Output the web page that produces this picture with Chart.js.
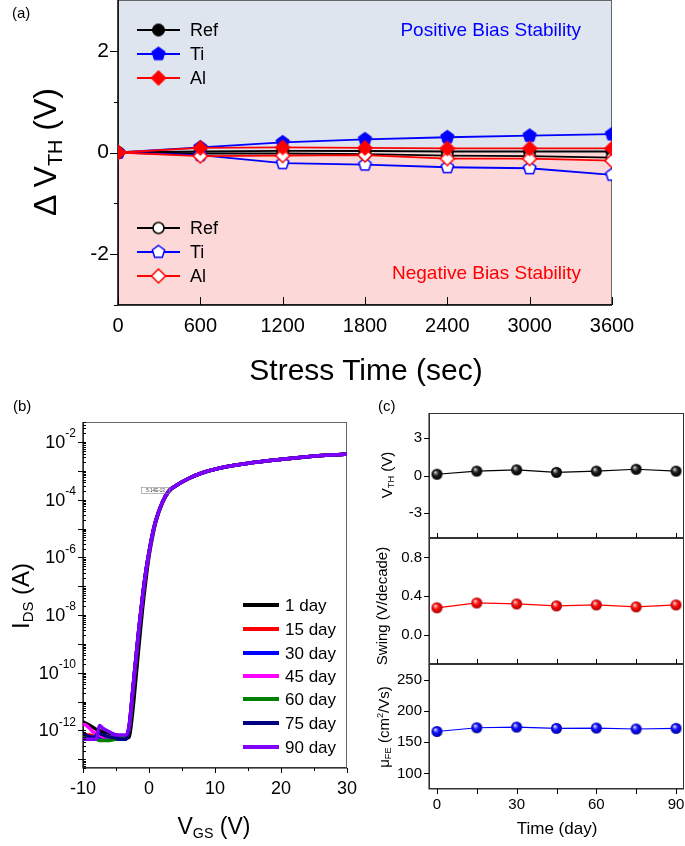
<!DOCTYPE html>
<html>
<head>
<meta charset="utf-8">
<script src="https://cdn.jsdelivr.net/npm/chart.js@4.4.1/dist/chart.umd.min.js"></script>
<style>
  body { margin: 0; background: #fff; }
  #page { position: relative; width: 685px; height: 846px; overflow: hidden; font-family: "Liberation Sans", Arial, sans-serif; color: #000; }
  canvas { position: absolute; }
  .lbl { position: absolute; white-space: nowrap; line-height: 1; }
  .mid { transform: translate(-50%, -50%); }
  .vert { transform: translate(-50%, -50%) rotate(-90deg); }
  sub { font-size: 0.62em; vertical-align: -0.3em; line-height: 0; }
  sup { font-size: 0.62em; vertical-align: 0.6em; line-height: 0; }
</style>
</head>
<body>
<div id="page">
  <canvas id="chartA" width="685" height="395" style="left:0;top:0"></canvas>
  <canvas id="chartB" width="360" height="451" style="left:0;top:395px"></canvas>
  <canvas id="chartC1" width="325" height="150" style="left:360px;top:395px"></canvas>
  <canvas id="chartC2" width="325" height="141" style="left:360px;top:530px"></canvas>
  <canvas id="chartC3" width="325" height="190" style="left:360px;top:656px"></canvas>

  <div class="lbl" style="left:12px;top:5px;font-size:15px">(a)</div>
  <div class="lbl vert" style="left:45px;top:152px;font-size:32px">&Delta; V<sub>TH</sub> (V)</div>
  <div class="lbl mid" style="left:366px;top:370px;font-size:30px">Stress Time (sec)</div>
  <div class="lbl" style="right:104px;top:20px;font-size:19px;color:#0000ff">Positive Bias Stability</div>
  <div class="lbl" style="right:104px;top:263px;font-size:19px;color:#ff0000">Negative Bias Stability</div>

  <div class="lbl" style="left:13px;top:398px;font-size:15px">(b)</div>
  <div class="lbl vert" style="left:21px;top:596px;font-size:24px">I<sub>DS</sub> (A)</div>
  <div class="lbl mid" style="left:214px;top:826px;font-size:23px">V<sub>GS</sub> (V)</div>

  <div class="lbl" style="left:378px;top:398px;font-size:15px">(c)</div>
  <div class="lbl vert" style="left:386px;top:475px;font-size:15px">V<sub>TH</sub> (V)</div>
  <div class="lbl vert" style="left:381px;top:606px;font-size:15px">Swing (V/decade)</div>
  <div class="lbl vert" style="left:383px;top:727px;font-size:15px">&mu;<sub>FE</sub> (cm<sup>2</sup>/Vs)</div>
  <div class="lbl mid" style="left:557px;top:828px;font-size:17px">Time (day)</div>
</div>
<script>
// ---------- panel (a): threshold shift under bias stress
const stressTime = [0, 600, 1200, 1800, 2400, 3000, 3600];
const pbsRef = [0, 0.02, 0.03, 0.03, 0.02, 0.02, 0.02];
const pbsTi = [0, 0.1, 0.2, 0.26, 0.3, 0.33, 0.36];
const pbsAl = [0, 0.09, 0.1, 0.09, 0.08, 0.08, 0.08];
const nbsRef = [0, -0.02, -0.02, -0.03, -0.06, -0.07, -0.1];
const nbsTi = [0, -0.05, -0.21, -0.24, -0.29, -0.31, -0.44];
const nbsAl = [0, -0.07, -0.06, -0.05, -0.12, -0.12, -0.16];
const metalLabels = ['Ref', 'Ti', 'Al'];

// ---------- panel (b): transfer curves over time
const vgs = [-10, -9, -8.5, -8, -7.5, -7, -6, -5, -4, -3.5, -3, -2.5, -2, -1.5, -1, -0.5, 0, 0.5, 1, 2, 3, 4, 6, 8, 10, 14, 18, 24, 30];
const idsDay1 = [2.0e-12, 1.5e-12, 1.3e-12, 1.1e-12, 1.0e-12, 9e-13, 8e-13, 7e-13, 6e-13, 5.5e-13, 6e-13, 4e-12, 6e-11, 1e-9, 1.5e-8, 1.5e-7, 1.1e-6, 4.8e-6, 1.6e-5, 7.5e-5, 1.9e-4, 3e-4, 5.5e-4, 8.5e-4, 1.15e-3, 1.7e-3, 2.25e-3, 3.1e-3, 3.9e-3];
const idsDay15 = [7e-13, 7e-13, 6.5e-13, 6e-13, 6e-13, 5.5e-13, 5.5e-13, 5.5e-13, 5.5e-13, 5.5e-13, 1.2e-12, 1.5e-11, 2.5e-10, 3.5e-9, 3.5e-8, 2.8e-7, 1.4e-6, 5.8e-6, 1.8e-5, 8e-5, 2e-4, 3e-4, 5.5e-4, 8.5e-4, 1.15e-3, 1.7e-3, 2.25e-3, 3.1e-3, 3.9e-3];
const idsDay30 = [8e-13, 6e-13, 6e-13, 5.5e-13, 5.5e-13, 5.5e-13, 5e-13, 5e-13, 5e-13, 5e-13, 1.3e-12, 1.8e-11, 2.8e-10, 3.8e-9, 3.8e-8, 3e-7, 1.5e-6, 6e-6, 1.8e-5, 8e-5, 2e-4, 3e-4, 5.5e-4, 8.5e-4, 1.15e-3, 1.7e-3, 2.25e-3, 3.1e-3, 3.9e-3];
const idsDay45 = [1.8e-12, 1.2e-12, 9e-13, 8e-13, 7e-13, 6e-13, 6e-13, 6.5e-13, 6e-13, 6e-13, 1.4e-12, 2e-11, 3e-10, 4e-9, 4e-8, 3e-7, 1.5e-6, 6e-6, 1.8e-5, 8e-5, 2e-4, 3e-4, 5.5e-4, 8.5e-4, 1.15e-3, 1.7e-3, 2.25e-3, 3.1e-3, 3.9e-3];
const idsDay60 = [6e-13, 5e-13, 5e-13, 5e-13, 4.5e-13, 4.5e-13, 4.5e-13, 5e-13, 6e-13, 6.5e-13, 1.2e-12, 1.7e-11, 2.8e-10, 3.8e-9, 3.8e-8, 3e-7, 1.5e-6, 6e-6, 1.8e-5, 8e-5, 2e-4, 3e-4, 5.5e-4, 8.5e-4, 1.15e-3, 1.7e-3, 2.25e-3, 3.1e-3, 3.9e-3];
const idsDay75 = [8e-13, 6e-13, 5e-13, 7e-13, 8e-13, 7e-13, 6e-13, 5.5e-13, 5e-13, 5e-13, 1.5e-12, 2e-11, 3e-10, 4e-9, 4e-8, 3e-7, 1.5e-6, 6e-6, 1.8e-5, 8e-5, 2e-4, 3e-4, 5.5e-4, 8.5e-4, 1.15e-3, 1.7e-3, 2.25e-3, 3.1e-3, 3.9e-3];
const idsDay90 = [5e-13, 5e-13, 5e-13, 5e-13, 1.5e-12, 1.2e-12, 9e-13, 7e-13, 7e-13, 7e-13, 1.5e-12, 2e-11, 3e-10, 4e-9, 4e-8, 3e-7, 1.5e-6, 6e-6, 1.8e-5, 8e-5, 2e-4, 3e-4, 5.5e-4, 8.5e-4, 1.15e-3, 1.7e-3, 2.25e-3, 3.1e-3, 3.9e-3];
const dayLabels = ['1 day', '15 day', '30 day', '45 day', '60 day', '75 day', '90 day'];
const vgsTicks = [-10, 0, 10, 20, 30];
const vgsMinorTicks = [-5, 5, 15, 25];
const idsLabelPowers = [-12, -10, -8, -6, -4, -2];

// ---------- panel (c): parameters vs storage time
const days = [0, 15, 30, 45, 60, 75, 90];
const vth = [0.1, 0.35, 0.45, 0.25, 0.35, 0.5, 0.35];
const swing = [0.28, 0.33, 0.32, 0.3, 0.31, 0.29, 0.31];
const mobility = [167, 173, 174, 172, 172.5, 171, 172];
const dayTicks = [0, 15, 30, 45, 60, 75, 90];
const vthTicks = [-3, 0, 3];
const swingTicks = [0, 0.4, 0.8];
const mobilityTicks = [100, 150, 200, 250];

const FONT = '"Liberation Sans", Arial, sans-serif';
Chart.defaults.font.family = FONT;
Chart.defaults.color = '#000';

const pts = (xs, ys) => xs.map((x, i) => ({ x: x, y: ys[i] }));

// fixed scale sizes so the plot boxes land where the figure has them
const fixWidth = w => s => { s.width = w; s.paddingTop = 0; s.paddingBottom = 0; };
const fixHeight = h => s => { s.height = h; s.paddingLeft = 0; s.paddingRight = 0; };

// marker images
function traceShape(g, shape, x, y, r) {
    g.beginPath();
    if (shape === 'circle') {
        g.arc(x, y, r, 0, Math.PI * 2);
    } else if (shape === 'diamond') {
        g.moveTo(x, y - r); g.lineTo(x + r, y); g.lineTo(x, y + r); g.lineTo(x - r, y);
    } else {
        for (let k = 0; k < 5; k++) {
            const a = -Math.PI / 2 + k * 2 * Math.PI / 5;
            if (k === 0) g.moveTo(x + r * Math.cos(a), y + r * Math.sin(a));
            else g.lineTo(x + r * Math.cos(a), y + r * Math.sin(a));
        }
    }
    g.closePath();
}

function makeMarker(shape, r, fill, stroke, lw) {
    const s = Math.ceil(2 * r + lw + 2);
    const c = document.createElement('canvas');
    c.width = s; c.height = s;
    const g = c.getContext('2d');
    traceShape(g, shape, s / 2, s / 2, r);
    g.fillStyle = fill; g.fill();
    g.lineWidth = lw; g.strokeStyle = stroke; g.stroke();
    return c;
}

function makeSphere(r, light, mid, dark) {
    const s = Math.ceil(2 * r + 2);
    const c = document.createElement('canvas');
    c.width = s; c.height = s;
    const g = c.getContext('2d');
    const cx = s / 2;
    const grad = g.createRadialGradient(cx - r * 0.35, cx - r * 0.4, 0, cx, cx, r);
    grad.addColorStop(0, '#ffffff');
    grad.addColorStop(0.18, light);
    grad.addColorStop(0.5, mid);
    grad.addColorStop(1, dark);
    g.beginPath(); g.arc(cx, cx, r, 0, Math.PI * 2);
    g.fillStyle = grad; g.fill();
    return c;
}

// frame: left/bottom axis lines plus lighter top/right
const frame = {
    id: 'frame',
    beforeDatasetsDraw(chart, args, opts) {
        const ctx = chart.ctx, a = chart.chartArea;
        ctx.save();
        ctx.lineWidth = 1;
        ctx.strokeStyle = opts.box || '#555';
        ctx.strokeRect(Math.round(a.left) + 0.5, Math.round(a.top) + 0.5, Math.round(a.width) - 1, Math.round(a.height) - 1);
        ctx.strokeStyle = opts.axis || '#000';
        ctx.lineWidth = opts.axisWidth || 1.5;
        ctx.beginPath();
        ctx.moveTo(a.left, a.top); ctx.lineTo(a.left, a.bottom);
        ctx.lineTo(a.right, a.bottom);
        ctx.stroke();
        ctx.restore();
    }
};

// tick marks; negative length = up / left
const tickMarks = {
    id: 'tickMarks',
    afterDatasetsDraw(chart, args, opts) {
        const ctx = chart.ctx, a = chart.chartArea;
        ctx.save();
        ctx.strokeStyle = opts.color || '#000';
        ctx.lineWidth = 1;
        (opts.marks || []).forEach(m => {
            const s = chart.scales[m.axis];
            m.values.forEach(v => {
                const p = Math.round(s.getPixelForValue(v)) + 0.5;
                ctx.beginPath();
                if (m.axis === 'x') {
                    ctx.moveTo(p, a.bottom); ctx.lineTo(p, a.bottom + m.len);
                } else {
                    ctx.moveTo(a.left, p); ctx.lineTo(a.left + m.len, p);
                }
                ctx.stroke();
            });
        });
        ctx.restore();
    }
};

// ================= panel (a)
const markA = {
    Ref: [makeMarker('circle', 6, '#000', '#000', 1), makeMarker('circle', 5.5, '#fff', '#000', 1.5)],
    Ti: [makeMarker('pentagon', 7, '#0000ff', '#0000ff', 1), makeMarker('pentagon', 6.5, '#fff', '#0000ff', 1.5)],
    Al: [makeMarker('diamond', 7.5, '#ff0000', '#ff0000', 1), makeMarker('diamond', 7, '#fff', '#ff0000', 1.5)]
};
const colorA = { Ref: '#000000', Ti: '#0000ff', Al: '#ff0000' };

function stressSet(label, ys, open, order) {
    return {
        label: label,
        data: pts(stressTime, ys),
        borderColor: colorA[label],
        borderWidth: 1.8,
        pointStyle: markA[label][open ? 1 : 0],
        pointRadius: 6,
        tension: 0,
        clip: 0,
        order: order
    };
}

const biasBands = {
    id: 'biasBands',
    beforeDraw(chart) {
        const { ctx, chartArea: a, scales: { y } } = chart;
        const y0 = y.getPixelForValue(0);
        ctx.save();
        ctx.fillStyle = '#dfe5ef';
        ctx.fillRect(a.left, a.top, a.width, y0 - a.top);
        ctx.fillStyle = '#fdd8d9';
        ctx.fillRect(a.left, y0, a.width, a.bottom - y0);
        ctx.restore();
    }
};

const legendA = {
    id: 'legendA',
    afterDraw(chart) {
        const ctx = chart.ctx;
        ctx.save();
        ctx.font = '18px ' + FONT;
        ctx.textBaseline = 'middle';
        ctx.fillStyle = '#000';
        [[30, 54, 78, 0], [228, 252, 276, 1]].forEach(group => {
            metalLabels.forEach((name, i) => {
                const y = group[i];
                ctx.strokeStyle = colorA[name];
                ctx.lineWidth = 1.8;
                ctx.beginPath(); ctx.moveTo(137, y); ctx.lineTo(180, y); ctx.stroke();
                const m = markA[name][group[3]];
                ctx.drawImage(m, 158.5 - m.width / 2, y - m.height / 2);
                ctx.fillText(name, 190, y + 1);
            });
        });
        ctx.restore();
    }
};

new Chart(document.getElementById('chartA'), {
    type: 'line',
    data: {
        datasets: [
            stressSet('Ref', pbsRef, false, 5),
            stressSet('Ref', nbsRef, true, 4),
            stressSet('Ti', pbsTi, false, 3),
            stressSet('Ti', nbsTi, true, 2),
            stressSet('Al', nbsAl, true, 1),
            stressSet('Al', pbsAl, false, 0)
        ]
    },
    options: {
        responsive: false, animation: false,
        layout: { autoPadding: false, padding: { top: 0, right: 73, left: 0, bottom: 0 } },
        plugins: {
            legend: { display: false }, tooltip: { enabled: false },
            frame: { box: '#666', axisWidth: 1.5 },
            tickMarks: {
                marks: [
                    { axis: 'x', values: stressTime, len: -8 },
                    { axis: 'y', values: [-2, 0, 2], len: -8 },
                    { axis: 'y', values: [-3, -1, 1], len: -4 }
                ]
            }
        },
        scales: {
            x: {
                type: 'linear', min: 0, max: 3600,
                afterBuildTicks: s => { s.ticks = stressTime.map(v => ({ value: v })); },
                ticks: { font: { size: 20 }, padding: 9, color: '#000', callback: v => String(v) },
                grid: { display: false, drawTicks: false }, border: { display: false },
                afterFit: fixHeight(90)
            },
            y: {
                min: -3, max: 3,
                afterBuildTicks: s => { s.ticks = [-2, 0, 2].map(v => ({ value: v })); },
                ticks: { font: { size: 21 }, padding: 9, color: '#000', callback: v => String(v) },
                grid: { display: false, drawTicks: false }, border: { display: false },
                afterFit: fixWidth(118)
            }
        }
    },
    plugins: [biasBands, frame, tickMarks, legendA]
});

// ================= panel (b)
const idsSeries = [idsDay1, idsDay15, idsDay30, idsDay45, idsDay60, idsDay75, idsDay90];
const dayColors = ['#000000', '#ff0000', '#0000ff', '#ff00ff', '#008000', '#000080', '#8000ff'];

const logAxisB = {
    id: 'logAxisB',
    afterDatasetsDraw(chart) {
        const ctx = chart.ctx, a = chart.chartArea, y = chart.scales.y;
        ctx.save();
        ctx.strokeStyle = '#000';
        ctx.lineWidth = 1;
        for (let p = -14; p <= -2; p++) {
            for (let k = 1; k <= 9; k++) {
                const v = k * Math.pow(10, p);
                if (v < y.min || v > y.max) continue;
                const py = Math.round(y.getPixelForValue(v)) + 0.5;
                ctx.beginPath();
                if (k === 1) { ctx.moveTo(a.left - 5, py); ctx.lineTo(a.left + 3, py); }
                else { ctx.moveTo(a.left, py); ctx.lineTo(a.left + 3, py); }
                ctx.stroke();
            }
        }
        ctx.fillStyle = '#000';
        ctx.textBaseline = 'middle';
        ctx.textAlign = 'right';
        idsLabelPowers.forEach(p => {
            const py = y.getPixelForValue(Math.pow(10, p));
            const exp = '-' + Math.abs(p);
            ctx.font = '12px ' + FONT;
            const ew = ctx.measureText(exp).width;
            const right = a.left - 7;
            ctx.fillText(exp, right, py - 8);
            ctx.font = '18px ' + FONT;
            ctx.fillText('10', right - ew, py + 1);
        });
        // small value tag left on the figure
        ctx.strokeStyle = '#888';
        ctx.lineWidth = 0.6;
        ctx.strokeRect(141.5, 92.5, 28, 6);
        ctx.font = '4.5px ' + FONT;
        ctx.textAlign = 'center';
        ctx.fillStyle = '#333';
        ctx.fillText('5.14E-13', 155.5, 95.8);
        ctx.restore();
    }
};

const legendB = {
    id: 'legendB',
    afterDraw(chart) {
        const ctx = chart.ctx;
        const rows = [210, 234, 258, 281, 304, 328, 352];
        ctx.save();
        ctx.font = '17px ' + FONT;
        ctx.textBaseline = 'middle';
        ctx.fillStyle = '#000';
        dayLabels.forEach((lab, i) => {
            ctx.strokeStyle = dayColors[i];
            ctx.lineWidth = 4;
            ctx.beginPath(); ctx.moveTo(243, rows[i]); ctx.lineTo(279, rows[i]); ctx.stroke();
            ctx.fillText(lab, 285, rows[i] + 1);
        });
        ctx.restore();
    }
};

new Chart(document.getElementById('chartB'), {
    type: 'line',
    data: {
        datasets: dayLabels.map((lab, i) => ({
            label: lab,
            data: pts(vgs, idsSeries[i]),
            borderColor: dayColors[i],
            borderWidth: 3.5,
            pointRadius: 0,
            cubicInterpolationMode: 'monotone',
            order: dayLabels.length - i
        }))
    },
    options: {
        responsive: false, animation: false,
        layout: { autoPadding: false, padding: { top: 27, right: 13, left: 0, bottom: 0 } },
        plugins: {
            legend: { display: false }, tooltip: { enabled: false },
            frame: { box: '#666', axis: '#000', axisWidth: 1.2 },
            tickMarks: {
                marks: [
                    { axis: 'x', values: vgsTicks, len: 5 },
                    { axis: 'x', values: vgsMinorTicks, len: 3 }
                ]
            }
        },
        scales: {
            x: {
                type: 'linear', min: -10, max: 30,
                afterBuildTicks: s => { s.ticks = vgsTicks.map(v => ({ value: v })); },
                ticks: { font: { size: 18 }, padding: 10, color: '#000', callback: v => String(v) },
                grid: { display: false, drawTicks: false }, border: { display: false },
                afterFit: fixHeight(78)
            },
            y: {
                type: 'logarithmic', min: 5e-14, max: 5e-2,
                ticks: { display: false },
                grid: { display: false, drawTicks: false }, border: { display: false },
                afterFit: fixWidth(83)
            }
        }
    },
    plugins: [frame, tickMarks, logAxisB, legendB]
});

// ================= panel (c)
const spheres = {
    black: makeSphere(5.5, '#9a9a9a', '#1e1e1e', '#000000'),
    red: makeSphere(5.5, '#ff9a9a', '#ff0d0d', '#a80000'),
    blue: makeSphere(5.5, '#9a9aff', '#1010ff', '#0000a0')
};

function subPanel(id, ys, sphere, color, yMin, yMax, yTicks, decimals, padTop, xHeight, bottom) {
    return new Chart(document.getElementById(id), {
        type: 'line',
        data: {
            datasets: [{
                data: pts(days, ys),
                borderColor: color,
                borderWidth: 1.2,
                pointStyle: sphere,
                pointRadius: 5,
                tension: 0
            }]
        },
        options: {
            responsive: false, animation: false,
            layout: { autoPadding: false, padding: { top: padTop, right: 1, left: 0, bottom: 0 } },
            plugins: {
                legend: { display: false }, tooltip: { enabled: false },
                frame: { box: '#333', axis: '#333', axisWidth: 1.2 },
                tickMarks: {
                    marks: [
                        { axis: 'x', values: dayTicks, len: bottom ? 5 : -5 },
                        { axis: 'y', values: yTicks, len: -5 }
                    ]
                }
            },
            scales: {
                x: {
                    type: 'linear', min: -3, max: 93,
                    afterBuildTicks: s => { s.ticks = dayTicks.map(v => ({ value: v })); },
                    ticks: {
                        display: bottom, font: { size: 15 }, padding: 7, color: '#000',
                        callback: v => (v % 30 === 0 ? String(v) : '')
                    },
                    grid: { display: false, drawTicks: false }, border: { display: false },
                    afterFit: fixHeight(xHeight)
                },
                y: {
                    min: yMin, max: yMax,
                    afterBuildTicks: s => { s.ticks = yTicks.map(v => ({ value: v })); },
                    ticks: { font: { size: 15 }, padding: 7, color: '#000', callback: v => v.toFixed(decimals) },
                    grid: { display: false, drawTicks: false }, border: { display: false },
                    afterFit: fixWidth(69)
                }
            }
        },
        plugins: [frame, tickMarks]
    });
}

subPanel('chartC1', vth, spheres.black, '#000000', -5, 5, vthTicks, 0, 18, 7, false);
subPanel('chartC2', swing, spheres.red, '#ff0000', -0.3, 1.0, swingTicks, 1, 8, 7, false);
subPanel('chartC3', mobility, spheres.blue, '#0000ff', 75, 275, mobilityTicks, 0, 8, 57, true);
</script>
</body>
</html>
